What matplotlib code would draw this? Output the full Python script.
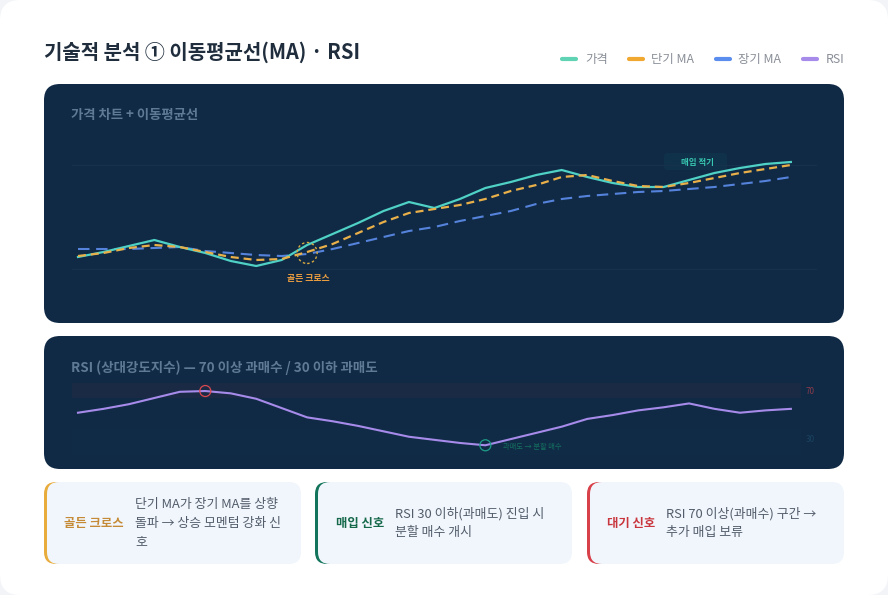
import matplotlib
matplotlib.use("Agg")
import matplotlib.pyplot as plt
from matplotlib.patches import FancyBboxPatch, Ellipse

plt.rcParams['font.family'] = ['Noto Sans CJK KR', 'DejaVu Sans']

W, H = 888, 595

# ---- data (chart values; unitless price index) ----
periods = list(range(29))
price = [66, 71, 77, 83, 76, 70, 62, 57, 63, 78, 89, 100, 112, 121, 115, 124, 135, 141, 148, 153, 146, 140, 136, 136, 143, 150, 155, 159, 161]
short_ma = [67, 70, 75, 78, 76, 71, 66, 63, 64, 71, 79, 90, 101, 110, 114, 118, 124, 132, 138, 146, 148, 142, 137, 136, 140, 145, 150, 154, 158]
long_ma = [74, 74, 74, 75, 76, 72, 70, 68, 67, 69, 74, 80, 86, 92, 96, 102, 107, 112, 119, 124, 127, 129, 131, 132, 134, 136, 139, 142, 146]
rsi = [51, 56, 62, 70, 78, 79, 76, 69, 57, 45, 40, 34, 27, 20, 16, 12, 9, 17, 25, 33, 43, 48, 54, 58, 63, 56, 51, 54, 56]
golden_idx = 9
golden_val = 70
rsi_high_idx = 5
rsi_low_idx = 16

legend_labels = ['가격', '단기 MA', '장기 MA', 'RSI']
legend_colors = ['#5fd3b3', '#f0a830', '#5b8dee', '#a78bea']
title = '기술적 분석 ① 이동평균선(MA) · RSI'
price_title = '가격 차트 + 이동평균선'
rsi_title = 'RSI (상대강도지수) — 70 이상 과매수 / 30 이하 과매도'
card_labels = ['골든 크로스', '매입 신호', '대기 신호']
card_colors = ['#e8ac3c', '#12745a', '#d8404a']
card_text_colors = ['#c48a35', '#15694a', '#c9353c']
card_lines = [['단기 MA가 장기 MA를 상향', '돌파 → 상승 모멘텀 강화 신', '호'],
              ['RSI 30 이하(과매도) 진입 시', '분할 매수 개시'],
              ['RSI 70 이상(과매수) 구간 →', '추가 매입 보류']]

PANEL = '#102a45'
CARD = '#f1f6fc'

fig = plt.figure(figsize=(W / 100, H / 100), dpi=100, facecolor='#f2f4f7')
bg = fig.add_axes([0, 0, 1, 1])
bg.set_xlim(0, W)
bg.set_ylim(H, 0)
bg.axis('off')


def rbox(x0, y0, x1, y1, r, fc, z=1, ax=bg, alpha=None):
    p = FancyBboxPatch((x0 + r, y0 + r), x1 - x0 - 2 * r, y1 - y0 - 2 * r,
                       boxstyle=f'round,pad={r},rounding_size={r}', fc=fc, ec='none', zorder=z, alpha=alpha)
    ax.add_patch(p)
    return p


rbox(0, 0, W, H, 20, 'white', 1)
rbox(44, 84, 844, 323, 16, PANEL, 2)
rbox(44, 336, 844, 469, 16, PANEL, 2)

bg.text(44, 52.5, title, fontsize=14.4, fontweight='bold', color='#1f2d3d', va='center', ha='left', zorder=5)

# legend
leg_sw = [560, 627, 714, 801]
leg_tx = [585, 651, 738, 826]
for sx, tx, lab, col in zip(leg_sw, leg_tx, legend_labels, legend_colors):
    bg.plot([sx + 1.5, sx + 16], [58.5, 58.5], color=col, lw=3, solid_capstyle='round', zorder=5)
    bg.text(tx, 59.5, lab, fontsize=8.9, color='#8a8f98', va='center', ha='left', zorder=5)

bg.text(71, 115.5, price_title, fontsize=9.6, fontweight='bold', color='#5f7a94', va='center', zorder=5)
bg.text(71, 367.5, rsi_title, fontsize=9.7, fontweight='bold', color='#5f7a94', va='center', zorder=5)
rbox(664, 153, 727, 170, 4, '#123d52', 2.5, alpha=0.4)


def px_ax(x0, y0, x1, y1):
    a = fig.add_axes([x0 / W, 1 - y1 / H, (x1 - x0) / W, (y1 - y0) / H], facecolor='none')
    a.axis('off')
    return a


# price axes: index i sits at 78 + 25.46 i; value v sits at 323 - v
XS = 25.46
xlim = ((44 - 78) / XS, (844 - 78) / XS)
a1 = px_ax(44, 84, 844, 323)
a1.set_xlim(*xlim)
a1.set_ylim(0, 239)
a1.set_zorder(3)
for gv in [54, 158]:
    a1.axhline(gv, xmin=28 / 800, xmax=772 / 800, color='#16324f', lw=0.7, zorder=1)
a1.plot(periods, long_ma, color='#5583dc', lw=1.5, ls=(0, (5.5, 3.2)), zorder=3)
a1.plot(periods, price, color='#4fd1c5', lw=1.6, zorder=4)
a1.plot(periods, short_ma, color='#e9b04a', lw=1.6, ls=(0, (3.6, 2.2)), zorder=5)
a1.add_patch(Ellipse((golden_idx, golden_val), 20 / XS, 21, fc='none', ec='#d9a93f', lw=1,
                     ls=(0, (1.8, 1.8)), zorder=6))
a1.text(golden_idx + 0.03, 45, '골든 크로스', fontsize=6.4, fontweight='bold', color='#f0a040', ha='center', va='center', zorder=6)
a1.text(24.32, 161, '매입 적기', fontsize=6.1, fontweight='bold', color='#38c7b0', ha='center', va='center', zorder=6)

# RSI axes: 70 -> y=398, 30 -> y=429
PU = 31 / 40
a2 = px_ax(44, 336, 844, 469)
a2.set_xlim(*xlim)
a2.set_ylim(70 + (398 - 469) / PU, 70 + (398 - 336) / PU)
a2.set_zorder(3)
a2.axhspan(70, 89, xmin=28 / 800, xmax=757 / 800, color='#2a2a45', alpha=0.4, lw=0, zorder=1)
a2.axhspan(-4, 30, xmin=28 / 800, xmax=757 / 800, color='#123650', alpha=0.15, lw=0, zorder=1)
a2.plot(periods, rsi, color='#a78bea', lw=1.5, zorder=4)
a2.add_patch(Ellipse((rsi_high_idx, rsi[rsi_high_idx]), 11 / XS, 11 / PU, fc='none', ec='#d8484f', lw=0.9, zorder=5))
a2.add_patch(Ellipse((rsi_low_idx, rsi[rsi_low_idx]), 11 / XS, 11 / PU, fc='none', ec='#1f9c88', lw=0.9, zorder=5))
a2.text(28.75, 79, '70', fontsize=5.8, color='#8c3a4c', ha='center', va='center', zorder=5)
a2.text(28.75, 17, '30', fontsize=5.8, color='#1a4360', ha='center', va='center', zorder=5)
a2.text(16.7, 7, '과매도 → 분할 매수', fontsize=5.2, color='#14705f', ha='left', va='center', zorder=5)

# bottom cards
card_x = [44, 315, 587]
label_cx = [94, 360, 631]
text_x = [135, 395, 666]
for i in range(3):
    x0 = card_x[i]
    x1 = x0 + 257
    rbox(x0, 482, x0 + 40, 564, 12, card_colors[i], 2)
    rbox(x0 + 3, 482, x1, 564, 12, CARD, 3)
    bg.text(label_cx[i], 524, card_labels[i], fontsize=8.9, fontweight='bold', color=card_text_colors[i],
            ha='center', va='center', zorder=5)
    n = len(card_lines[i])
    for j, ln in enumerate(card_lines[i]):
        y = 523 - (n - 1) * 9.4 + j * 18.8
        bg.text(text_x[i], y, ln, fontsize=9.3, color='#525c6a', ha='left', va='center', zorder=5)

fig.savefig('out.png', dpi=100, facecolor=fig.get_facecolor())
